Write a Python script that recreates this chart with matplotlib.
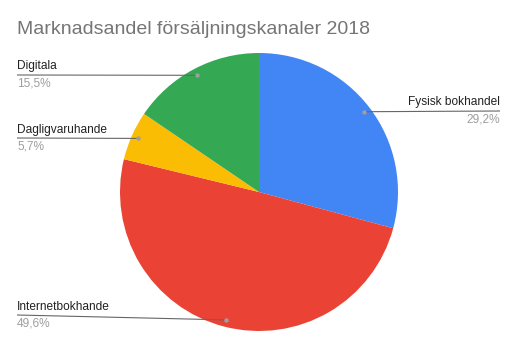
import matplotlib
matplotlib.use("Agg")
import matplotlib.pyplot as plt
import numpy as np

plt.rcParams['font.family'] = ['Liberation Sans', 'DejaVu Sans']

title = "Marknadsandel försäljningskanaler 2018"
categories = ["Fysisk bokhandel", "Internetbokhande", "Dagligvaruhande", "Digitala"]
shares = [29.2, 49.6, 5.7, 15.5]
colors = ["#4285F4", "#EA4335", "#FBBC04", "#34A853"]

W, H = 518, 348
fig = plt.figure(figsize=(W / 100, H / 100), dpi=100)
ax = fig.add_axes([0, 0, 1, 1])
ax.set_xlim(0, W)
ax.set_ylim(0, H)
ax.axis('off')

cx, cy, r = 259, H - 192, 139
wedges, _ = ax.pie(shares, colors=colors, startangle=90, counterclock=False,
                   center=(cx, cy), radius=r, frame=True,
                   wedgeprops=dict(linewidth=0))
ax.set_xlim(0, W)
ax.set_ylim(0, H)
ax.axis('off')

fig.text(17 / W, 1 - 29 / H, title, fontsize=14, color="#757575",
         ha='left', va='center')

# label anchor: (side, y of leader line at label end) in pixel rows from top
label_layout = {
    "Fysisk bokhandel": ("right", 111),
    "Internetbokhande": ("left", 315),
    "Dagligvaruhande": ("left", 138),
    "Digitala": ("left", 75),
}

for w, name, val in zip(wedges, categories, shares):
    mid = np.deg2rad((w.theta1 + w.theta2) / 2)
    px = cx + 0.95 * r * np.cos(mid)
    py = cy + 0.95 * r * np.sin(mid)
    side, ly = label_layout[name]
    ly = H - ly
    if side == "left":
        x0, ha = 17, 'left'
    else:
        x0, ha = 500, 'right'
    ax.plot([x0, px], [ly, py], color="#666666", lw=0.8, zorder=5,
            solid_capstyle='butt')
    ax.plot([px], [py], marker='o', ms=3.2, color="#9e9e9e", mec='none', zorder=6)
    ax.text(x0, ly + 2.5, name, fontsize=8.6, color="#222222", ha=ha, va='bottom')
    ax.text(x0, ly - 2.5, f"{val:.1f}%".replace('.', ','), fontsize=8.6,
            color="#9e9e9e", ha=ha, va='top')

fig.savefig("out.png", dpi=100)
